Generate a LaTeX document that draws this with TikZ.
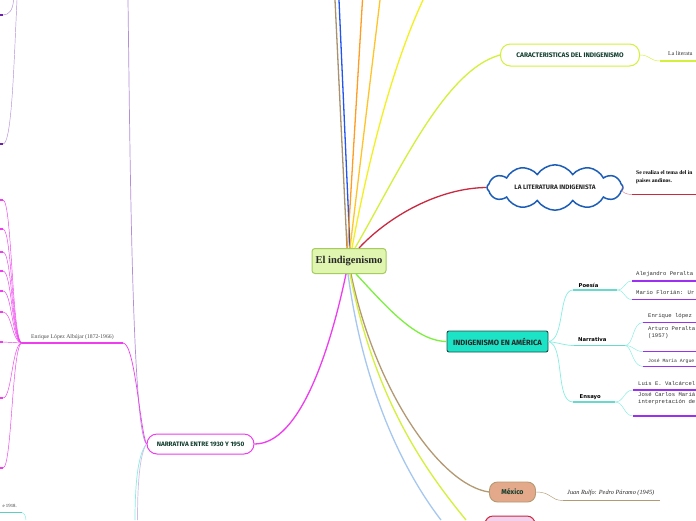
\documentclass[tikz,border=0pt]{standalone}
\usepackage{fontspec}
\setmainfont{Liberation Serif}
\newfontfamily\headf{Fira Sans}
\newfontfamily\monof{Liberation Mono}
\newfontfamily\subf{DejaVu Sans}
\usetikzlibrary{shapes.symbols}
\definecolor{cfill}{HTML}{DFF5B0}
\definecolor{cborder}{HTML}{A5CC5C}
\definecolor{ygreen}{HTML}{D4F03A}
\definecolor{crim}{HTML}{C92A3F}
\definecolor{cloudb}{HTML}{1C5DB8}
\definecolor{lgreen}{HTML}{7CF03E}
\definecolor{tealf}{HTML}{1CE3C6}
\definecolor{tealb}{HTML}{1F4D48}
\definecolor{cyanl}{HTML}{86EEE2}
\definecolor{purp}{HTML}{9B30F0}
\definecolor{tanl}{HTML}{B39A72}
\definecolor{mexf}{HTML}{E3A98A}
\definecolor{mag}{HTML}{EE3DEE}
\definecolor{lpurp}{HTML}{B48ED8}
\definecolor{lblue}{HTML}{A6C8F0}
\definecolor{dkgreen}{HTML}{0E3B2C}
\definecolor{brownl}{HTML}{A8916E}
\definecolor{bluel}{HTML}{2255F0}
\definecolor{orangel}{HTML}{FF9C22}
\definecolor{goldl}{HTML}{FFC428}
\definecolor{yell}{HTML}{F4F020}
\definecolor{pinkf}{HTML}{F2D2EC}
\definecolor{txtg}{HTML}{333333}
\tikzset{
  mainline/.style={line width=1.3pt},
  subline/.style={line width=0.7pt},
  thinline/.style={line width=0.45pt},
  uline/.style={line width=1.2pt},
  headtext/.style={font=\headf\bfseries\fontsize{6.4}{7}\selectfont, text=dkgreen},
  leaf/.style={font=\monof\fontsize{5.6}{7.2}\selectfont, text=txtg, anchor=base west, inner sep=0pt, align=left},
  cat/.style={font=\subf\bfseries\fontsize{5.3}{6}\selectfont, anchor=base west, inner sep=0pt},
  small/.style={font=\fontsize{5.6}{6.6}\selectfont, text=txtg, anchor=base west, inner sep=0pt, align=left},
}
\begin{document}
\begin{tikzpicture}[x=1pt,y=-1pt]
\useasboundingbox (0,0) rectangle (696,520);
\fill[white] (0,0) rectangle (696,520);

% ---------- free ends ----------
\coordinate (t1) at (335,0);
\coordinate (t2) at (339,0);
\coordinate (t3) at (362.5,0);
\coordinate (t4) at (380,0);
\coordinate (t5) at (423,0);
\coordinate (b1) at (466,520);
\coordinate (b2) at (441,520);
\coordinate (lp) at (128,0);
\coordinate (lc) at (135,520);
\coordinate (ll) at (137.5,520);

% ---------- nodes ----------
\node[draw=cborder, fill=cfill, line width=1pt, rounded corners=3pt, minimum width=74pt, minimum height=25pt, inner sep=0pt,
      font=\bfseries\fontsize{10.5}{11}\selectfont, text=black!85] (c) at (349,261) {El indigenismo};

\node[draw=ygreen, fill=white, line width=1pt, rounded corners=10pt, minimum width=139pt, minimum height=22pt, inner sep=0pt, headtext, font=\headf\bfseries\fontsize{6.6}{7}\selectfont] (car) at (570,55) {CARACTERISTICAS DEL INDIGENISMO};

\node[cloud, cloud puffs=12, cloud puff arc=115, aspect=3.8, draw=cloudb, fill=white, line width=1.5pt,
      minimum width=136pt, minimum height=33pt, inner sep=0pt, headtext, text=black!85] (lit) at (555,187.5) {LA LITERATURA INDIGENISTA};

\node[draw=tealb, fill=tealf, line width=0.9pt, rounded corners=2pt, minimum width=101pt, minimum height=21pt, inner sep=0pt, headtext, font=\headf\bfseries\fontsize{7.6}{8}\selectfont, text=black!85] (am) at (497.5,341.5) {INDIGENISMO EN AMÉRICA};

\node[draw=tanl, fill=mexf, line width=0.9pt, rounded corners=8pt, minimum width=46pt, minimum height=20pt, inner sep=0pt, headtext, font=\headf\bfseries\fontsize{7}{8}\selectfont] (mx) at (512.5,492) {México};

\node[draw=crim, fill=pinkf, line width=1pt, rounded corners=8pt, minimum width=50pt, minimum height=22pt, inner sep=0pt] (pk) at (510,527) {};

\node[draw=mag, fill=white, line width=1pt, rounded corners=10pt, minimum width=107pt, minimum height=20pt, inner sep=0pt, headtext] (nar) at (200.5,444) {NARRATIVA ENTRE 1930 Y 1950};

% ---------- main connectors ----------
\draw[mainline, brownl] ([xshift=-2pt]c.north) -- (t1);
\draw[mainline, bluel] ([xshift=1pt]c.north) -- (t2);
\draw[mainline, orangel] ([xshift=-1.5pt]c.north) -- (t3);
\draw[mainline, goldl] ([xshift=1pt]c.north) -- (t4);
\draw[mainline, yell] ([xshift=3pt]c.north) .. controls (370,150) and (395,60) .. (t5);
\draw[mainline, ygreen] ([xshift=6pt]c.north) .. controls (400,170) and (445,70) .. (car.west);
\draw[mainline, crim] ([xshift=10pt]c.north) .. controls (390,215) and (440,188) .. (lit.west);
\draw[mainline, lgreen] ([xshift=7pt]c.south) .. controls (385,305) and (415,341) .. (am.west);
\draw[mainline, tanl] ([xshift=2pt]c.south) .. controls (375,390) and (440,485) .. (mx.west);
\draw[mainline, ygreen] ([xshift=1pt]c.south) .. controls (375,400) and (425,470) .. (b1);
\draw[mainline, lblue] ([xshift=-1pt]c.south) .. controls (365,400) and (410,480) .. (b2);
\draw[mainline, mag] ([xshift=-3pt]c.south) .. controls (330,350) and (300,444) .. (nar.east);

% ---------- Caracteristicas ----------
\coordinate (carA) at (660,61);
\coordinate (carB) at (696,61);
\draw[thinline, ygreen] (car.east) .. controls (650,55) and (650,61) .. (carA);
\draw[uline, ygreen] (carA) -- (carB);
\node[small, font=\fontsize{5.9}{7}\selectfont] (cart) at (668,55.5) {La literatu};

% ---------- Literatura indigenista ----------
\coordinate (litA) at (632,194.5);
\coordinate (litB) at (696,194.5);
\draw[thinline, crim!60] (lit.east) .. controls (620,186) and (620,194.5) .. (litA);
\draw[uline, crim] (litA) -- (litB);
\node[small, text=black, font=\bfseries\fontsize{5.6}{7.8}\selectfont] (litt) at (636,182.5) {Se realiza el tema del in\\paises andinos.};

% ---------- Indigenismo en America ----------
\coordinate (pA) at (573,290); \coordinate (pB) at (617,290);
\coordinate (nA) at (574,345.5); \coordinate (nB) at (625,345.5);
\coordinate (eA) at (573,402); \coordinate (eB) at (615,402);
\draw[subline, cyanl] (am.east) .. controls (565,340) and (558,290) .. (pA);
\draw[subline, cyanl] (am.east) .. controls (560,343) and (565,345.5) .. (nA);
\draw[subline, cyanl] (am.east) .. controls (565,345) and (555,402) .. (eA);
\draw[uline, cyanl!80!teal] (pA) -- (pB);
\draw[uline, cyanl!80!teal] (nA) -- (nB);
\draw[uline, cyanl!80!teal] (eA) -- (eB);
\node[cat] (poe) at (578.5,287) {Poesía};
\node[cat] (narr) at (578,341.5) {Narrativa};
\node[cat] (ens) at (579.5,398.5) {Ensayo};

% leaves
\foreach \n/\x/\y in {p1/632/281, p2/632/299.5, n1/643/322.5, n2/643/351.5, n3/643/366.5, e1/633/390, e2/633/416}{
  \coordinate (\n) at (\x,\y);
}
\draw[thinline, cyanl] (pB) .. controls (625,290) and (624,281) .. (p1);
\draw[thinline, cyanl] (pB) .. controls (625,290) and (624,299.5) .. (p2);
\draw[thinline, cyanl] (nB) .. controls (634,345.5) and (632,322.5) .. (n1);
\draw[thinline, cyanl] (nB) .. controls (634,345.5) and (634,351.5) .. (n2);
\draw[thinline, cyanl] (nB) .. controls (632,345.5) and (632,366.5) .. (n3);
\draw[thinline, cyanl] (eB) .. controls (624,402) and (624,390) .. (e1);
\draw[thinline, cyanl] (eB) .. controls (624,402) and (624,416) .. (e2);
\foreach \n in {p1,p2,n1,n2,n3,e1,e2}{ \draw[uline, purp] (\n) -- ++(70,0); }
\node[leaf] (lp1) at (636,275.5) {Alejandro Peralta};
\node[leaf] (lp2) at (636,294.5) {Mario Florián: Ur};
\node[leaf] (ln1) at (648,317.5) {Enrique lópez};
\node[leaf] (ln2) at (648,337.5) {Arturo Peralta\\(1957)};
\node[leaf, font=\monof\fontsize{4.8}{6}\selectfont] (ln3) at (648,362) {José María Argue};
\node[leaf] (le1) at (638,385) {Luis E. Valcárcel};
\node[leaf] (le2) at (638,403.5) {José Carlos Mariá\\interpretación de};

% ---------- México ----------
\coordinate (mA) at (563,500.5); \coordinate (mB) at (660,500.5);
\draw[thinline, tanl] (mx.east) .. controls (552,492) and (550,500.5) .. (mA);
\draw[uline, tanl] (mA) -- (mB);
\node[small, font=\itshape\fontsize{6.3}{7}\selectfont, text=black!85] (rul) at (567,494) {Juan Rulfo: Pedro Páramo (1945)};

% ---------- Narrativa 1930-1950 (left) ----------
\coordinate (hA) at (22,343); \coordinate (hB) at (123,343);
\draw[subline, lpurp] (nar.west) .. controls (132,430) and (130,150) .. (lp);
\draw[subline, cyanl] (nar.west) .. controls (137,455) and (135,490) .. (lc);
\draw[subline, lpurp!60] (nar.west) .. controls (139,455) and (137.5,490) .. (ll);
\draw[subline, mag] (nar.west) .. controls (140,430) and (135,343) .. (hB);
\draw[uline, mag] (hA) -- (hB);
\node[small, font=\fontsize{5.7}{6.5}\selectfont, text=black!70] (alb) at (31,338) {Enrique López Albújar (1872-1966)};
\foreach \yy in {200,229,252,271,291,312,342,398,468}{
  \coordinate (m\yy) at (3,\yy);
  \draw[thinline, mag] (hA) .. controls (12,343) and (12,\yy) .. (m\yy);
  \draw[uline, mag] (m\yy) -- (0,\yy);
}

% ---------- top-left purple ----------
\coordinate (tp1) at (13.5,0); \coordinate (tp2) at (17,0);
\coordinate (tq1) at (3,15); \coordinate (tq2) at (3,144);
\draw[thinline, lpurp] (tp1) .. controls (13,10) and (9,15) .. (tq1);
\draw[thinline, lpurp] (tp2) .. controls (14,60) and (12,144) .. (tq2);
\draw[uline, purp!70!black] (tq1) -- (0,15);
\draw[uline, purp!70!black] (tq2) -- (0,144);

% ---------- bottom-left cyan ----------
\coordinate (bc1) at (22,512.5); \coordinate (bc2) at (26,520);
\draw[uline, cyanl!70!teal] (0,512.5) -- (bc1);
\draw[thinline, cyanl] (bc1) .. controls (24,512.5) and (25.5,515) .. (bc2);
\node[small, font=\fontsize{4.8}{6}\selectfont, anchor=base east] (e18) at (17,507) {e 1918.};
\end{tikzpicture}
\end{document}
